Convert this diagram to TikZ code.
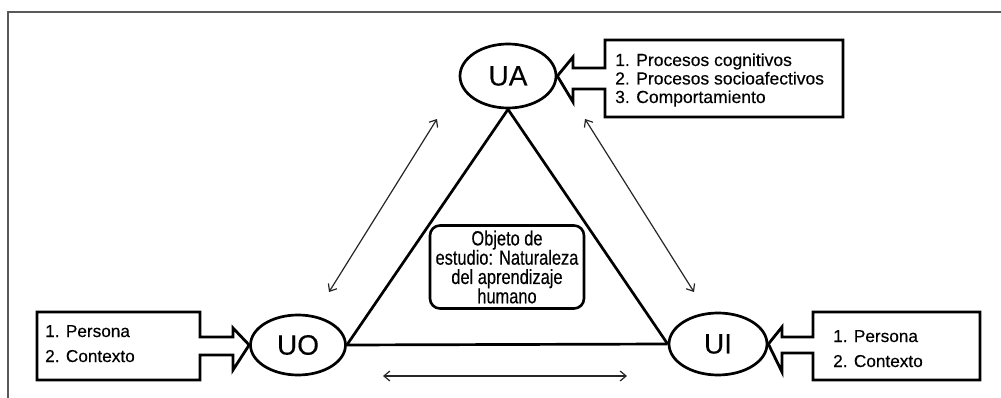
\documentclass[tikz,border=0pt]{standalone}
\usepackage{fontspec}
\setmainfont[FakeBold=0.35]{Liberation Sans}
\newfontfamily\condfont[FakeStretch=0.8,FakeBold=0.35]{Liberation Sans}
\usetikzlibrary{shapes.geometric,arrows.meta}
\begin{document}
\begin{tikzpicture}[x=1pt,y=-1pt,
 ell/.style={draw,ellipse,line width=2.7pt,inner sep=0pt,font=\fontsize{28}{28}\selectfont},
 outl/.style={line width=2.8pt,line join=miter},
 boxtxt/.style={anchor=base west,inner sep=0pt,font=\fontsize{17.5}{18}\selectfont},
 ptxt/.style={anchor=base west,inner sep=0pt,font=\fontsize{17.2}{18}\selectfont},
 tri/.style={line width=2.7pt},
 rel/.style={{Straight Barb[length=6pt,width=10pt]}-{Straight Barb[length=6pt,width=10pt]},line width=1.2pt,draw=black!85},
 framel/.style={draw=black!65,line width=2pt},
 objbox/.style={draw,rounded corners=10pt,line width=2.6pt,minimum width=154pt,minimum height=83pt,inner sep=0pt,align=center,font=\condfont\fontsize{20.5}{19.3}\selectfont}
]
\useasboundingbox (0,0) rectangle (1001,398);
% frame
\draw[framel] (8,398) -- (8,12) -- (1001,12);
% ellipses
\node[ell,minimum width=96pt,minimum height=64pt] (UA) at (508,76) {UA};
\node[ell,minimum width=95pt,minimum height=60pt] (UO) at (298,345) {UO};
\node[ell,minimum width=98pt,minimum height=62pt] (UI) at (718,344) {UI};
% triangle
\draw[tri] (UO.east) -- (UA.south) -- (UI.west);
\draw[tri] (UO.east) -- (UI.west);
% boxes with block arrows
\draw[outl] (605,68) -- (605,40) -- (843,40) -- (843,117) -- (605,117) -- (605,89) -- (573,89) -- (573,102) -- (UA.east) -- (573,57) -- (573,68) -- cycle;
\draw[outl] (200,337) -- (200,312) -- (37,312) -- (37,380) -- (200,380) -- (200,355) -- (233,355) -- (233,370) -- (UO.west) -- (233,328) -- (233,337) -- cycle;
\draw[outl] (813,337) -- (813,312) -- (980,312) -- (980,380) -- (813,380) -- (813,353) -- (782,353) -- (782,372) -- (UI.east) -- (782,327) -- (782,337) -- cycle;
% box texts
\node[boxtxt] (ua1) at (615,66) {1. Procesos cognitivos};
\node[boxtxt] (ua2) at (615,84.5) {2. Procesos socioafectivos};
\node[boxtxt] (ua3) at (615,103) {3. Comportamiento};
\node[ptxt] (uo1) at (45,337) {1. Persona};
\node[ptxt] (uo2) at (45,362) {2. Contexto};
\node[ptxt] (ui1) at (833,342) {1. Persona};
\node[ptxt] (ui2) at (833,367) {2. Contexto};
% central box
\node[objbox] (obj) at (507,267) {Objeto de\\estudio: Naturaleza\\del aprendizaje\\humano};
% relation arrows
\coordinate (la1) at (437,119); \coordinate (la2) at (329,292);
\coordinate (ra1) at (585,119); \coordinate (ra2) at (694,292);
\coordinate (ba1) at (383,376); \coordinate (ba2) at (627,376);
\draw[rel] (la1) -- (la2);
\draw[rel] (ra1) -- (ra2);
\draw[rel] (ba1) -- (ba2);
\end{tikzpicture}
\end{document}
